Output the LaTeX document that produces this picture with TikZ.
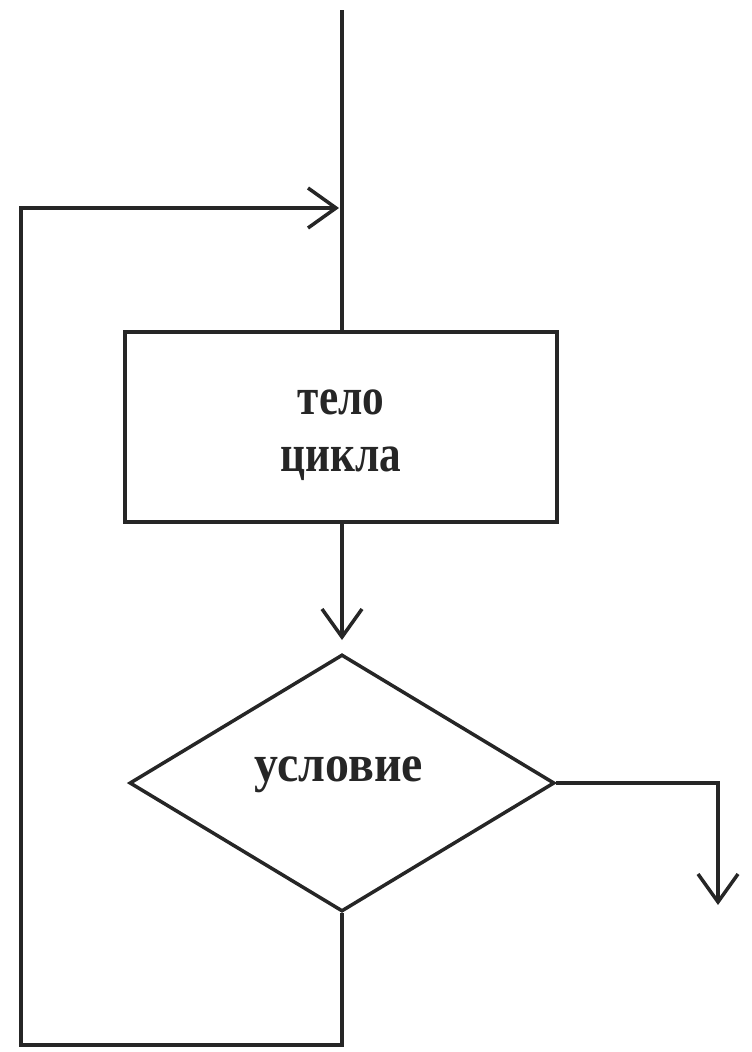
\documentclass[tikz,border=0pt]{standalone}
\usepackage{fontspec}
\setmainfont{Liberation Serif}
\usetikzlibrary{arrows.meta,shapes.geometric}
\tikzset{
  line/.style={line width=3.5pt, draw=black!85},
  arr/.style={line, -{Straight Barb[length=28pt,width=40pt,line width=3.5pt]}},
  block/.style={line, rectangle, minimum width=432pt, minimum height=190pt, inner sep=0pt},
  decision/.style={line, diamond, aspect=1.654, minimum width=425pt, minimum height=257pt, inner sep=0pt},
  lbl/.style={font=\fontsize{42}{50}\bfseries, text=black!85, align=center}
}
\begin{document}
\begin{tikzpicture}[x=1pt,y=-1pt]
\useasboundingbox (0,0) rectangle (752,1052);
\coordinate (top) at (342,10);
\node[block] (body) at (341,427) {};
\node[lbl] (t1) at (341,402) {\scalebox{1.03}[1.25]{тело}};
\node[lbl] (t2) at (341,464) {\scalebox{1.03}[1.25]{цикла}};
\node[decision] (cond) at (342,783) {};
\node[lbl] (t3) at (339,775) {\scalebox{1.14}[1.25]{условие}};
\coordinate (stop1) at (342,640);
\coordinate (ex1) at (718,783);
\coordinate (ex2) at (718,905);
\coordinate (lb) at (342,1045);
\coordinate (llb) at (21,1045);
\coordinate (llt) at (21,208);
\coordinate (ltip) at (339,208);
\draw[line] (top) -- (top |- body.north);
\draw[arr] (top |- body.south) -- (stop1);
\draw[arr] (cond.east) -- (ex1) -- (ex2);
\draw[arr] (cond.south) -- (lb) -- (llb) -- (llt) -- (ltip);
\end{tikzpicture}
\end{document}
